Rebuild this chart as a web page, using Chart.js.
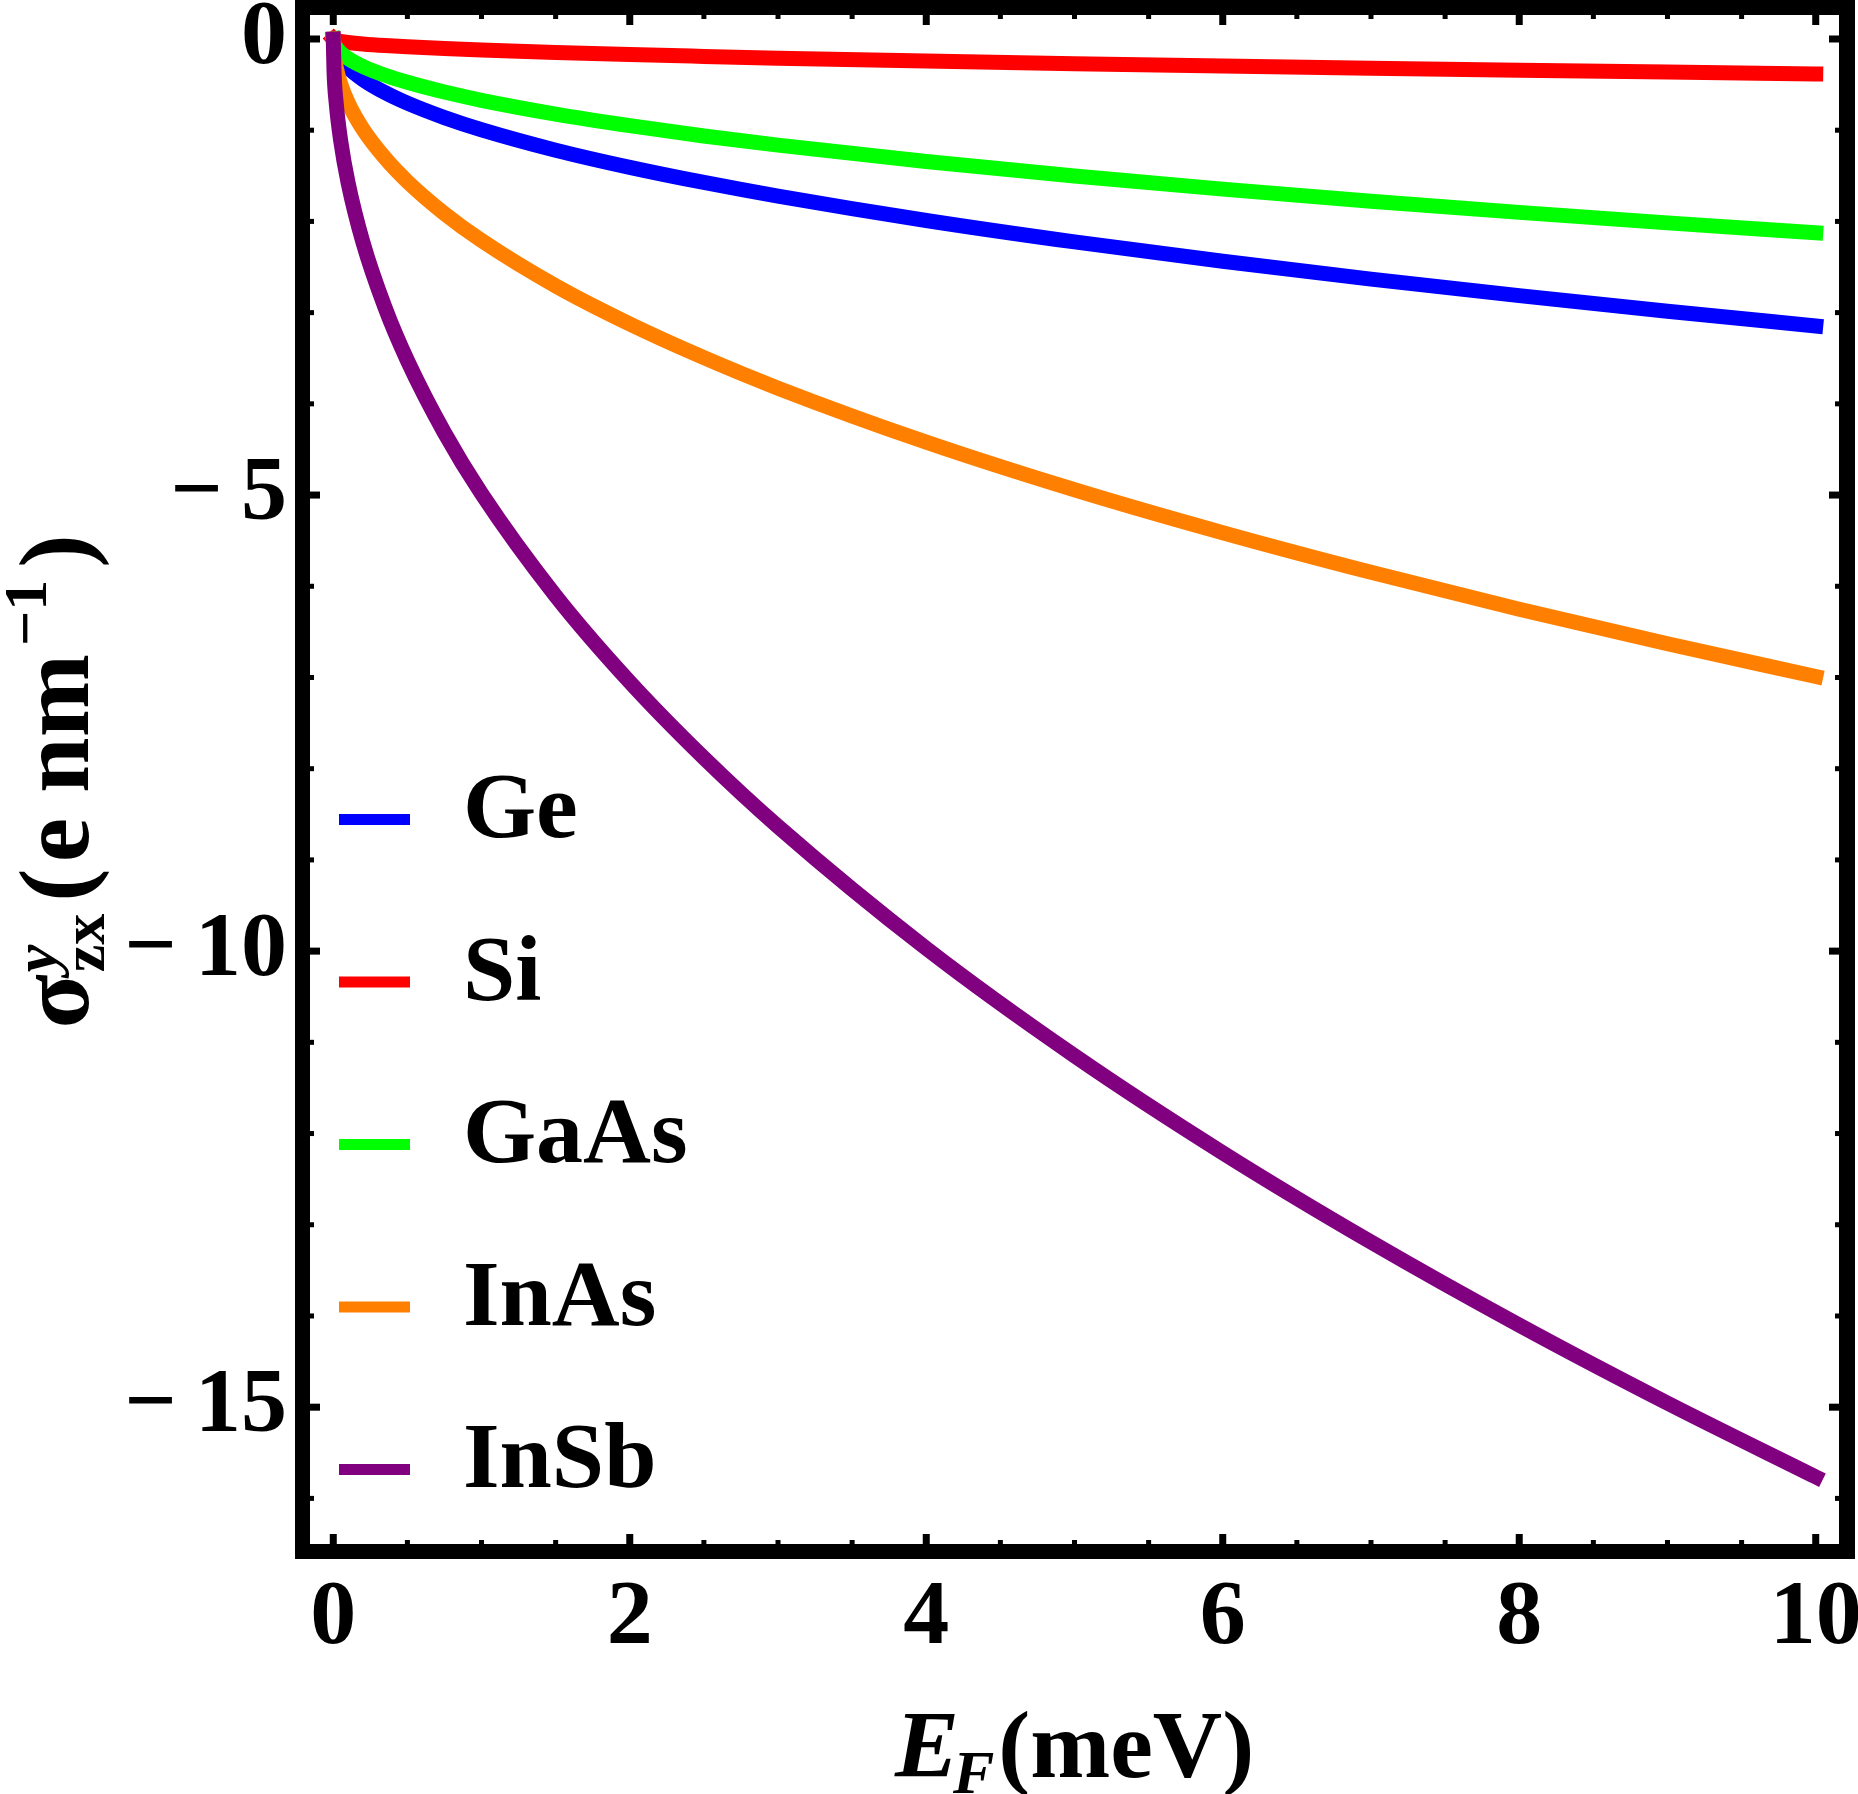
<!DOCTYPE html>
<html>
<head>
<meta charset="utf-8">
<script src="https://cdn.jsdelivr.net/npm/chart.js@4.4.0/dist/chart.umd.min.js"></script>
<style>
  html, body { margin: 0; padding: 0; background: #fff; }
  #wrap { width: 1858px; height: 1794px; }
</style>
</head>
<body>
<div id="wrap"><canvas id="chart" width="1858" height="1794"></canvas></div>
<script>
// Fermi energy samples (meV), read along the x axis
const energies = [0, 0.005, 0.02, 0.05, 0.1, 0.2, 0.35, 0.5, 0.75, 1, 1.5, 2, 2.5, 3, 4, 5, 6, 7, 8, 9, 10];

// sigma^y_zx (e nm^-1) at the energies above
const geValues = [0, -0.070, -0.141, -0.222, -0.315, -0.445, -0.589, -0.704, -0.862, -0.995, -1.219, -1.407, -1.573, -1.723, -1.990, -2.225, -2.437, -2.633, -2.814, -2.985, -3.146];
const siValues = [0, -0.009, -0.017, -0.027, -0.038, -0.054, -0.072, -0.086, -0.105, -0.121, -0.148, -0.171, -0.191, -0.210, -0.242, -0.271, -0.296, -0.320, -0.342, -0.363, -0.383];
const gaasValues = [0, -0.048, -0.095, -0.150, -0.213, -0.301, -0.398, -0.475, -0.582, -0.672, -0.823, -0.950, -1.063, -1.164, -1.344, -1.503, -1.646, -1.778, -1.901, -2.016, -2.125];
const inasValues = [0, -0.156, -0.313, -0.494, -0.699, -0.988, -1.307, -1.563, -1.914, -2.210, -2.707, -3.125, -3.494, -3.828, -4.420, -4.942, -5.413, -5.847, -6.251, -6.630, -6.989];
const insbValues = [0, -0.352, -0.705, -1.115, -1.576, -2.229, -2.949, -3.525, -4.317, -4.985, -6.105, -7.050, -7.882, -8.634, -9.970, -11.147, -12.211, -13.189, -14.100, -14.955, -15.764];

const materials = ["Ge", "Si", "GaAs", "InAs", "InSb"];
const seriesValues = [geValues, siValues, gaasValues, inasValues, insbValues];
const colors = ["#0000ff", "#ff0000", "#00ff00", "#ff8000", "#800080"];

const xTickValues = [0, 2, 4, 6, 8, 10];
const yTickValues = [-15, -10, -5, 0];

const SERIF = '"Liberation Serif", "Times New Roman", serif';

function fmtTick(v) {
  return v < 0 ? "\u2212\u2009" + Math.abs(v) : String(v);
}

// thick frame with inward ticks on all four sides
const framePlugin = {
  id: "frame",
  afterDraw(chart) {
    const { ctx, chartArea: a, scales } = chart;
    const t = 15;
    ctx.save();
    ctx.fillStyle = "#000";
    ctx.fillRect(a.left - t, a.top - t, a.right - a.left + 2 * t + 1, t);
    ctx.fillRect(a.left - t, a.bottom, a.right - a.left + 2 * t + 1, t);
    ctx.fillRect(a.left - t, a.top - t, t, a.bottom - a.top + 2 * t);
    ctx.fillRect(a.right, a.top - t, t + 1, a.bottom - a.top + 2 * t);

    // x ticks every 0.5, major at labelled values
    for (let i = 0; i <= 20; i++) {
      const v = i / 2;
      const major = xTickValues.includes(v);
      const len = major ? 10 : 4;
      const w = major ? 7 : 5;
      const px = scales.x.getPixelForValue(v);
      ctx.fillRect(px - w / 2, a.bottom - len, w, len);
      ctx.fillRect(px - w / 2, a.top, w, len);
    }
    // y ticks every 1
    for (let v = 0; v >= -16; v--) {
      const major = yTickValues.includes(v);
      const len = major ? 10 : 4;
      const w = major ? 7 : 5;
      const py = scales.y.getPixelForValue(v);
      ctx.fillRect(a.left, py - w / 2, len, w);
      ctx.fillRect(a.right - len, py - w / 2, len, w);
    }
    ctx.restore();
  }
};

function drawPieces(ctx, pieces, x, y) {
  let cx = x;
  pieces.forEach((p) => {
    ctx.font = p.font;
    ctx.fillText(p.text, cx, y + (p.dy || 0));
    if (p.advance !== false) cx += ctx.measureText(p.text).width + (p.gap || 0);
  });
}
function piecesWidth(ctx, pieces) {
  let w = 0;
  pieces.forEach((p) => {
    ctx.font = p.font;
    if (p.advance !== false) w += ctx.measureText(p.text).width + (p.gap || 0);
  });
  return w;
}

const titlePlugin = {
  id: "titles",
  afterDraw(chart) {
    const { ctx, chartArea: a } = chart;
    ctx.save();
    ctx.fillStyle = "#000";
    ctx.textBaseline = "alphabetic";
    ctx.textAlign = "left";

    const xBig = "bold 96px " + SERIF;
    const xSmall = "bold 62px " + SERIF;
    const xPieces = [
      { text: "E", font: "italic " + xBig, gap: -6 },
      { text: "F", font: "italic " + xSmall, dy: 16, gap: 4 },
      { text: "(meV)", font: xBig }
    ];
    const xw = piecesWidth(ctx, xPieces);
    drawPieces(ctx, xPieces, (a.left + a.right) / 2 - xw / 2, 1777);

    const big = "bold 100px " + SERIF;
    const small = "bold 62px " + SERIF;
    const yPieces = [
      { text: "\u03c3", font: big, gap: 2 },
      { text: "y", font: "italic " + small, dy: -32, advance: false },
      { text: "zx", font: small, dy: 16, gap: 12 },
      { text: "(", font: big, gap: 6 },
      { text: "e", font: big },
      { text: " ", font: big },
      { text: "nm", font: big, gap: 8 },
      { text: "\u22121", font: small, dy: -42, gap: 12 },
      { text: ")", font: big }
    ];
    const yw = piecesWidth(ctx, yPieces);
    ctx.translate(88, (a.top + a.bottom) / 2 + 2);
    ctx.rotate(-Math.PI / 2);
    drawPieces(ctx, yPieces, -yw / 2, 0);
    ctx.restore();
  }
};

// legend drawn inside the plot area, left side
const legendPlugin = {
  id: "insideLegend",
  afterDraw(chart) {
    const { ctx, chartArea: a } = chart;
    ctx.save();
    chart.data.datasets.forEach((ds, i) => {
      const y = a.top + 804.5 + i * 162.5;
      ctx.strokeStyle = ds.borderColor;
      ctx.lineWidth = 11;
      ctx.lineCap = "butt";
      ctx.beginPath();
      ctx.moveTo(a.left + 29, y);
      ctx.lineTo(a.left + 100, y);
      ctx.stroke();
      ctx.fillStyle = "#000";
      ctx.font = "bold 94px " + SERIF;
      ctx.textBaseline = "alphabetic";
      ctx.textAlign = "left";
      ctx.fillText(ds.label, a.left + 153, y + 17.5);
    });
    ctx.restore();
  }
};

const datasets = materials.map((name, i) => ({
  label: name,
  data: energies.map((e, k) => ({ x: e, y: seriesValues[i][k] })),
  borderColor: colors[i],
  backgroundColor: colors[i],
  borderWidth: 15,
  borderCapStyle: "square",
  borderJoinStyle: "round",
  pointRadius: 0,
  fill: false,
  cubicInterpolationMode: "monotone",
  order: materials.length - i
}));

const tickFont = { family: SERIF, size: 92, weight: "bold" };

new Chart(document.getElementById("chart"), {
  type: "line",
  data: { datasets },
  options: {
    responsive: false,
    animation: false,
    layout: { padding: { left: 0, top: 15, right: 19, bottom: 0 } },
    plugins: {
      legend: { display: false },
      tooltip: { enabled: false },
      title: { display: false }
    },
    scales: {
      x: {
        type: "linear",
        min: -0.157,
        max: 10.157,
        afterBuildTicks: (scale) => { scale.ticks = xTickValues.map((v) => ({ value: v })); },
        afterFit: (scale) => {
          scale.height = 250;
          scale.paddingLeft = 0;
          scale.paddingRight = 0;
        },
        grid: { display: false, drawTicks: false },
        border: { display: false },
        ticks: {
          padding: 20,
          autoSkip: false,
          maxRotation: 0,
          color: "#000",
          font: tickFont,
          callback: (v) => fmtTick(v)
        }
      },
      y: {
        type: "linear",
        min: -16.5,
        max: 0.263,
        afterBuildTicks: (scale) => { scale.ticks = yTickValues.map((v) => ({ value: v })); },
        afterFit: (scale) => {
          scale.width = 310;
          scale.paddingTop = 0;
          scale.paddingBottom = 0;
        },
        grid: { display: false, drawTicks: false },
        border: { display: false },
        ticks: {
          padding: 23,
          color: "#000",
          font: tickFont,
          callback: (v) => fmtTick(v)
        }
      }
    }
  },
  plugins: [framePlugin, legendPlugin, titlePlugin]
});
</script>
</body>
</html>
